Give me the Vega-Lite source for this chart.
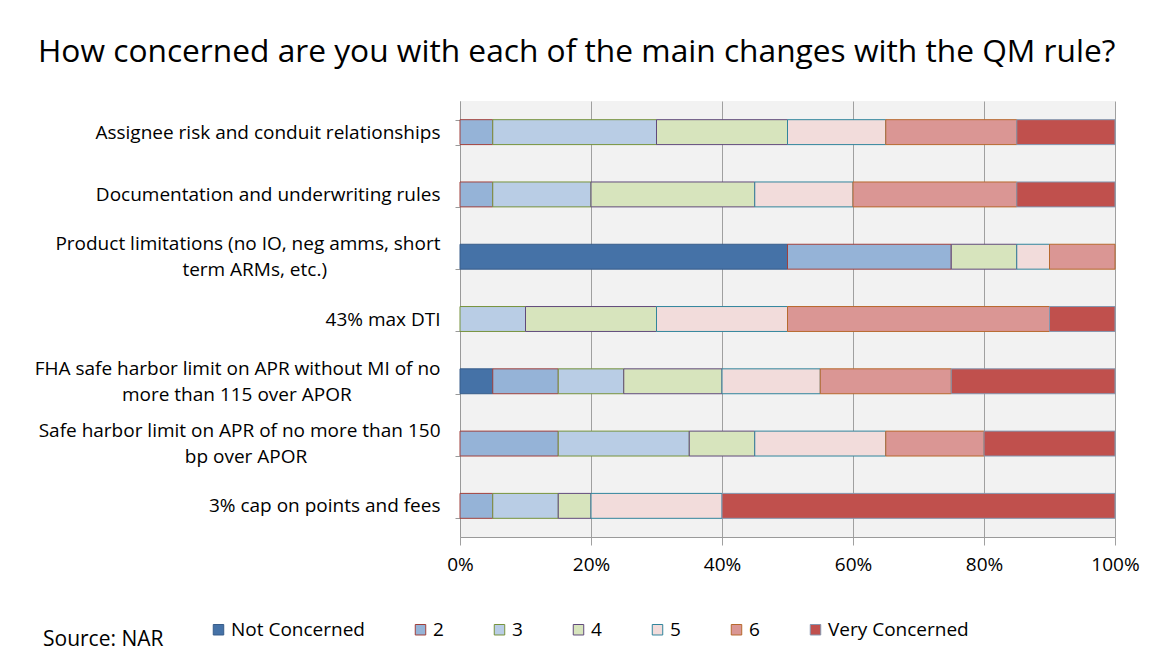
{
  "$schema": "https://vega.github.io/schema/vega-lite/v6.json",
  "width": 655,
  "height": 436,
  "autosize": "none",
  "padding": {"left": 460, "top": 101, "right": 43, "bottom": 118},
  "background": "white",
  "title": {
    "text": "How concerned are you with each of the main changes with the QM rule?",
    "anchor": "start",
    "frame": "group",
    "dx": -422,
    "offset": 23,
    "font": "Open Sans",
    "fontSize": 31.7,
    "fontWeight": "normal",
    "color": "#000000"
  },
  "data": {
    "values": [
      {"q": "Assignee risk and conduit relationships", "level": "2", "rank": 2, "v": 5},
      {"q": "Assignee risk and conduit relationships", "level": "3", "rank": 3, "v": 25},
      {"q": "Assignee risk and conduit relationships", "level": "4", "rank": 4, "v": 20},
      {"q": "Assignee risk and conduit relationships", "level": "5", "rank": 5, "v": 15},
      {"q": "Assignee risk and conduit relationships", "level": "6", "rank": 6, "v": 20},
      {"q": "Assignee risk and conduit relationships", "level": "Very Concerned", "rank": 7, "v": 15},
      {"q": "Documentation and underwriting rules", "level": "2", "rank": 2, "v": 5},
      {"q": "Documentation and underwriting rules", "level": "3", "rank": 3, "v": 15},
      {"q": "Documentation and underwriting rules", "level": "4", "rank": 4, "v": 25},
      {"q": "Documentation and underwriting rules", "level": "5", "rank": 5, "v": 15},
      {"q": "Documentation and underwriting rules", "level": "6", "rank": 6, "v": 25},
      {"q": "Documentation and underwriting rules", "level": "Very Concerned", "rank": 7, "v": 15},
      {"q": "Product limitations (no IO, neg amms, short|term ARMs, etc.)", "level": "Not Concerned", "rank": 1, "v": 50},
      {"q": "Product limitations (no IO, neg amms, short|term ARMs, etc.)", "level": "2", "rank": 2, "v": 25},
      {"q": "Product limitations (no IO, neg amms, short|term ARMs, etc.)", "level": "4", "rank": 4, "v": 10},
      {"q": "Product limitations (no IO, neg amms, short|term ARMs, etc.)", "level": "5", "rank": 5, "v": 5},
      {"q": "Product limitations (no IO, neg amms, short|term ARMs, etc.)", "level": "6", "rank": 6, "v": 10},
      {"q": "43% max DTI", "level": "3", "rank": 3, "v": 10},
      {"q": "43% max DTI", "level": "4", "rank": 4, "v": 20},
      {"q": "43% max DTI", "level": "5", "rank": 5, "v": 20},
      {"q": "43% max DTI", "level": "6", "rank": 6, "v": 40},
      {"q": "43% max DTI", "level": "Very Concerned", "rank": 7, "v": 10},
      {"q": "FHA safe harbor limit on APR without MI of no|more than 115 over APOR", "level": "Not Concerned", "rank": 1, "v": 5},
      {"q": "FHA safe harbor limit on APR without MI of no|more than 115 over APOR", "level": "2", "rank": 2, "v": 10},
      {"q": "FHA safe harbor limit on APR without MI of no|more than 115 over APOR", "level": "3", "rank": 3, "v": 10},
      {"q": "FHA safe harbor limit on APR without MI of no|more than 115 over APOR", "level": "4", "rank": 4, "v": 15},
      {"q": "FHA safe harbor limit on APR without MI of no|more than 115 over APOR", "level": "5", "rank": 5, "v": 15},
      {"q": "FHA safe harbor limit on APR without MI of no|more than 115 over APOR", "level": "6", "rank": 6, "v": 20},
      {"q": "FHA safe harbor limit on APR without MI of no|more than 115 over APOR", "level": "Very Concerned", "rank": 7, "v": 25},
      {"q": "Safe harbor limit on APR of no more than 150|bp over APOR", "level": "2", "rank": 2, "v": 15},
      {"q": "Safe harbor limit on APR of no more than 150|bp over APOR", "level": "3", "rank": 3, "v": 20},
      {"q": "Safe harbor limit on APR of no more than 150|bp over APOR", "level": "4", "rank": 4, "v": 10},
      {"q": "Safe harbor limit on APR of no more than 150|bp over APOR", "level": "5", "rank": 5, "v": 20},
      {"q": "Safe harbor limit on APR of no more than 150|bp over APOR", "level": "6", "rank": 6, "v": 15},
      {"q": "Safe harbor limit on APR of no more than 150|bp over APOR", "level": "Very Concerned", "rank": 7, "v": 20},
      {"q": "3% cap on points and fees", "level": "2", "rank": 2, "v": 5},
      {"q": "3% cap on points and fees", "level": "3", "rank": 3, "v": 10},
      {"q": "3% cap on points and fees", "level": "4", "rank": 4, "v": 5},
      {"q": "3% cap on points and fees", "level": "5", "rank": 5, "v": 20},
      {"q": "3% cap on points and fees", "level": "Very Concerned", "rank": 7, "v": 60}
    ]
  },
  "mark": {"type": "bar", "strokeWidth": 1},
  "encoding": {
    "y": {
      "field": "q",
      "type": "nominal",
      "sort": [
        "Assignee risk and conduit relationships",
        "Documentation and underwriting rules",
        "Product limitations (no IO, neg amms, short|term ARMs, etc.)",
        "43% max DTI",
        "FHA safe harbor limit on APR without MI of no|more than 115 over APOR",
        "Safe harbor limit on APR of no more than 150|bp over APOR",
        "3% cap on points and fees"
      ],
      "scale": {"paddingInner": 0.6, "paddingOuter": 0.3},
      "axis": {
        "title": null,
        "labelExpr": "indexof(datum.label, '|') >= 0 ? [split(datum.label, '|')[0], '\u200b\u00a0\u200b', pad(split(datum.label, '|')[1], length(split(datum.label, '|')[1]) + floor((length(split(datum.label, '|')[0]) - length(split(datum.label, '|')[1])) * 0.86), '\u00a0') + '\u200b'] : ['\u200b\u00a0\u200b', datum.label]",
        "labelFont": "Open Sans",
        "labelFontSize": 19,
        "labelColor": "#000000",
        "labelLineHeight": 13,
        "labelLimit": 500,
        "labelPadding": 15,
        "labelOffset": -13,
        "tickBand": "extent",
        "tickSize": 5,
        "tickColor": "#9a9a9a",
        "domainColor": "#9a9a9a",
        "grid": false
      }
    },
    "x": {
      "field": "v",
      "type": "quantitative",
      "stack": "zero",
      "scale": {"domain": [0, 100], "nice": false},
      "axis": {
        "title": null,
        "values": [0, 20, 40, 60, 80, 100],
        "labelExpr": "datum.value + '%'",
        "labelFont": "Open Sans",
        "labelFontSize": 19,
        "labelColor": "#000000",
        "labelFlush": false,
        "labelPadding": 10,
        "tickSize": 8,
        "tickColor": "#a0a0a0",
        "domainColor": "#9a9a9a",
        "grid": true,
        "gridColor": "#a0a0a0",
        "gridWidth": 1
      }
    },
    "order": {"field": "rank", "type": "quantitative"},
    "fill": {
      "field": "level",
      "type": "nominal",
      "scale": {
        "domain": ["Not Concerned", "2", "3", "4", "5", "6", "Very Concerned"],
        "range": ["#4572a7", "#95b3d7", "#b9cde5", "#d7e4bd", "#f2dcdb", "#da9694", "#c0504d"]
      },
      "legend": {
        "title": "Source: NAR",
        "orient": "none",
        "direction": "horizontal",
        "legendX": -417,
        "legendY": 519,
        "titleOrient": "left",
        "titleAnchor": "end",
        "titleBaseline": "middle",
        "titleFont": "Open Sans",
        "titleFontSize": 21,
        "titleFontWeight": "normal",
        "titleColor": "#000000",
        "titlePadding": 45,
        "symbolType": "square",
        "symbolSize": 110,
        "symbolStrokeWidth": 1,
        "labelFont": "Open Sans",
        "labelFontSize": 19,
        "labelColor": "#000000",
        "labelOffset": 3,
        "columnPadding": 46,
        "padding": 0
      }
    },
    "stroke": {
      "field": "level",
      "type": "nominal",
      "scale": {
        "domain": ["Not Concerned", "2", "3", "4", "5", "6", "Very Concerned"],
        "range": ["#385d8a", "#a0403c", "#77933c", "#604a7b", "#31859c", "#b7692e", "#8497b0"]
      },
      "legend": {
        "title": "Source: NAR",
        "orient": "none",
        "direction": "horizontal",
        "legendX": -417,
        "legendY": 519
      }
    }
  },
  "config": {
    "view": {"fill": "#f2f2f2", "stroke": null},
    "font": "Open Sans"
  }
}
